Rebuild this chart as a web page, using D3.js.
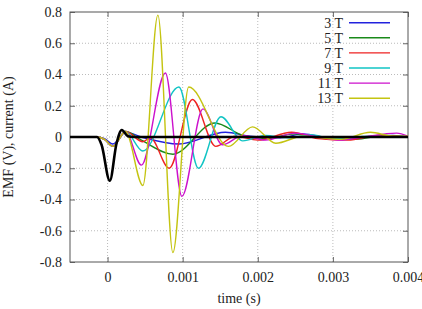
<!DOCTYPE html>
<html>
<head>
<meta charset="utf-8">
<script src="https://cdn.jsdelivr.net/npm/d3@7"></script>
<style>
  body { margin: 0; background: #fff; }
</style>
</head>
<body>
<script>
// tick values
const xTicks = [0, 0.001, 0.002, 0.003, 0.004];
const yTicks = [-0.8, -0.6, -0.4, -0.2, 0, 0.2, 0.4, 0.6, 0.8];

// series names (number of turns)
const names = ["3 T", "5 T", "7 T", "9 T", "11 T", "13 T"];

// time (s) and value for each curve
const t3 = [-0.0005, -0.00015, -0.00004, 0.00007, 0.00024, 0.00045, 0.00095, 0.00157, 0.0019, 0.0023, 0.0026, 0.003, 0.0034, 0.0038, 0.004];
const v3 = [0, 0, -0.01, -0.045, 0.03, 0.0, -0.045, 0.03, 0.005, -0.005, 0.02, -0.01, 0.0, 0.01, 0.0];

const t5 = [-0.0005, -0.00015, -0.00004, 0.00007, 0.00024, 0.00045, 0.00087, 0.00143, 0.0018, 0.0021, 0.0025, 0.0029, 0.0033, 0.0037, 0.004];
const v5 = [0, 0, -0.015, -0.06, 0.035, -0.02, -0.11, 0.09, 0.01, -0.01, 0.02, -0.01, -0.015, 0.01, 0];

const t7 = [-0.0005, -0.00015, -0.00004, 0.00007, 0.00024, 0.00047, 0.00057, 0.00082, 0.00113, 0.00144, 0.0017, 0.002, 0.00245, 0.0028, 0.0032, 0.0036, 0.004];
const v7 = [0, 0, -0.015, -0.06, 0.035, -0.03, -0.005, -0.2, 0.24, -0.06, 0.005, -0.02, 0.03, -0.01, -0.02, 0.01, 0];

const t9 = [-0.0005, -0.00015, -0.00004, 0.00007, 0.00024, 0.00047, 0.00095, 0.00121, 0.00151, 0.0018, 0.0021, 0.0024, 0.0027, 0.003, 0.0035, 0.004];
const v9 = [0, 0, -0.015, -0.06, 0.035, -0.09, 0.32, -0.2, 0.13, -0.025, 0.01, -0.005, 0.015, -0.01, 0.005, 0];

const t11 = [-0.0005, -0.00015, -0.00004, 0.00007, 0.00024, 0.00045, 0.00077, 0.00099, 0.00127, 0.00153, 0.0018, 0.0021, 0.0025, 0.0028, 0.0031, 0.0034, 0.00385, 0.004];
const v11 = [0, 0, -0.015, -0.06, 0.035, -0.18, 0.41, -0.38, 0.18, -0.05, 0.01, -0.02, 0.025, 0.0, -0.02, 0.0, 0.025, 0.005];

const t13 = [-0.0005, -0.00015, -0.00004, 0.00007, 0.00024, 0.00047, 0.00067, 0.00087, 0.00108, 0.00161, 0.00193, 0.00224, 0.0026, 0.0031, 0.0035, 0.0038, 0.004];
const v13 = [0, 0, -0.015, -0.06, 0.035, -0.31, 0.78, -0.74, 0.32, -0.06, 0.065, -0.04, 0.005, -0.015, 0.03, 0.005, 0.005];

// reference pulse (black, no legend entry)
const tRef = [-0.0005, -0.00014, -0.00008, 0.00003, 0.00012, 0.00019, 0.00027, 0.00035, 0.004];
const vRef = [0, 0, -0.05, -0.28, -0.04, 0.045, 0.005, 0, 0];

const colors = ["#2222dd", "#1a8a1a", "#ee2222", "#11c4c4", "#cc11cc", "#c4c411"];

const font = 'Liberation Serif';

let width = 422, height = 309;
let margin = { top: 12, bottom: 47, left: 70, right: 14 };

let svg = d3.select('body')
  .append('svg')
    .attr('width', width)
    .attr('height', height);

let xScale = d3.scaleLinear()
  .domain([-0.0005, 0.004])
  .range([margin.left, width - margin.right]);

let yScale = d3.scaleLinear()
  .domain([-0.8, 0.8])
  .range([height - margin.bottom, margin.top]);

const x0 = margin.left, x1 = width - margin.right;
const y0 = height - margin.bottom, y1 = margin.top;

// grid
svg.append('g')
  .selectAll('line')
  .data(xTicks.filter(d => xScale(d) < x1 - 1))
  .enter().append('line')
    .attr('x1', d => xScale(d)).attr('x2', d => xScale(d))
    .attr('y1', y0).attr('y2', y1)
    .attr('stroke', '#aaa').attr('stroke-width', 0.8)
    .attr('stroke-dasharray', '1,2');

svg.append('g')
  .selectAll('line')
  .data(yTicks.filter(d => Math.abs(d) < 0.75))
  .enter().append('line')
    .attr('x1', x0).attr('x2', x1)
    .attr('y1', d => yScale(d)).attr('y2', d => yScale(d))
    .attr('stroke', '#aaa').attr('stroke-width', 0.8)
    .attr('stroke-dasharray', '1,2');

// axes with inward ticks, mirrored
const fmtY = d => d === 0 ? "0" : d.toFixed(1);
const fmtX = d => d === 0 ? "0" : d.toFixed(3);

let xAxis = svg.append('g')
  .attr('transform', `translate(0,${y0})`)
  .call(d3.axisBottom(xScale).tickValues(xTicks).tickFormat(fmtX).tickSize(-5).tickPadding(10));
let yAxis = svg.append('g')
  .attr('transform', `translate(${x0},0)`)
  .call(d3.axisLeft(yScale).tickValues(yTicks).tickFormat(fmtY).tickSize(-5).tickPadding(8));
svg.append('g')
  .attr('transform', `translate(0,${y1})`)
  .call(d3.axisTop(xScale).tickValues(xTicks).tickFormat('').tickSize(-5));
svg.append('g')
  .attr('transform', `translate(${x1},0)`)
  .call(d3.axisRight(yScale).tickValues(yTicks).tickFormat('').tickSize(-5));

svg.selectAll('.domain').remove();
svg.selectAll('.tick line').attr('stroke', '#666');
xAxis.attr('font-family', font).attr('font-size', 14);
yAxis.attr('font-family', font).attr('font-size', 14);
svg.selectAll('.tick text').attr('fill', '#222');

// frame
svg.append('rect')
  .attr('x', x0).attr('y', y1)
  .attr('width', x1 - x0).attr('height', y0 - y1)
  .attr('fill', 'none').attr('stroke', '#555').attr('stroke-width', 1);

// labels
svg.append('text')
  .attr('x', (x0 + x1) / 2).attr('y', 303)
  .attr('text-anchor', 'middle')
  .attr('font-family', font)
  .attr('font-size', 14)
  .attr('fill', '#222')
  .text('time (s)');

svg.append('text')
  .attr('transform', `translate(13,${yScale(0)}) rotate(-90)`)
  .attr('text-anchor', 'middle')
  .attr('font-family', font)
  .attr('font-size', 14)
  .attr('fill', '#222')
  .text('EMF (V), current (A)');

// curves
svg.append('clipPath').attr('id', 'clip')
  .append('rect').attr('x', x0).attr('y', y1).attr('width', x1 - x0).attr('height', y0 - y1);

const line = d3.line()
  .x(d => xScale(d[0]))
  .y(d => yScale(d[1]))
  .curve(d3.curveMonotoneX);

const times = [t3, t5, t7, t9, t11, t13];
const values = [v3, v5, v7, v9, v11, v13];
const series = names.map((n, i) => ({
  name: n,
  color: colors[i],
  points: times[i].map((t, j) => [t, values[i][j]])
}));

let plot = svg.append('g').attr('clip-path', 'url(#clip)');

plot.selectAll('path.s')
  .data(series)
  .enter().append('path')
    .attr('class', 's')
    .attr('d', d => line(d.points))
    .attr('fill', 'none')
    .attr('stroke', d => d.color)
    .attr('stroke-width', 1.4);

plot.append('path')
  .attr('d', line(tRef.map((t, j) => [t, vRef[j]])))
  .attr('fill', 'none')
  .attr('stroke', '#000')
  .attr('stroke-width', 2.6);

// legend
let legend = svg.append('g')
  .selectAll('g')
  .data(series)
  .enter().append('g')
    .attr('transform', (d, i) => `translate(0,${22.7 + i * 15.1})`);

legend.append('text')
  .attr('x', 343)
  .attr('dy', '0.35em')
  .attr('text-anchor', 'end')
  .attr('font-family', font)
  .attr('font-size', 14)
  .attr('fill', '#222')
  .text(d => d.name);

legend.append('line')
  .attr('x1', 349).attr('x2', 390)
  .attr('stroke', d => d.color)
  .attr('stroke-width', 1.4);
</script>
</body>
</html>
